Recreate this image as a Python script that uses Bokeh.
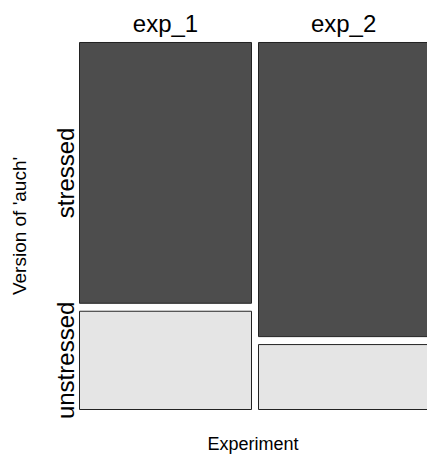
from bokeh.plotting import figure
from bokeh.models import Range1d, LinearAxis, FixedTicker
from bokeh.embed import file_html
from bokeh.resources import INLINE

# ---- data (counts read from the mosaic proportions) ----
experiments = ["exp_1", "exp_2"]
versions = ["stressed", "unstressed"]
stressed = [69, 77]
unstressed = [26, 17]

FONT = "Liberation Sans"
DARK = "#4d4d4d"
LIGHT = "#e5e5e5"

totals = [s + u for s, u in zip(stressed, unstressed)]
grand = sum(totals)
widths = [t / grand for t in totals]

# layout scale (pixels per unit) used for gaps/ranges
sx = 172 / widths[0]
sy = 361.0
gap_x = 7 / sx
gap_y = 8 / sy

left, right, bottom, top, fill = [], [], [], [], []
x_centers = []
x0 = 0.0
for i, exp in enumerate(experiments):
    w = widths[i]
    pu = unstressed[i] / totals[i]
    # unstressed (bottom)
    left.append(x0); right.append(x0 + w); bottom.append(0.0); top.append(pu); fill.append(LIGHT)
    # stressed (top)
    left.append(x0); right.append(x0 + w); bottom.append(pu + gap_y); top.append(1.0 + gap_y); fill.append(DARK)
    x_centers.append(x0 + w / 2)
    x0 += w + gap_x

pu1 = unstressed[0] / totals[0]
y_centers = [(pu1 + gap_y + 1.0 + gap_y) / 2, pu1 / 2]

p = figure(width=427, height=456,
           x_range=Range1d(-1 / sx, 348 / sx),
           y_range=Range1d(-1 / sy, 370 / sy),
           output_backend="svg", toolbar_location=None,
           x_axis_location=None, y_axis_location=None,
           min_border_left=78, min_border_right=0,
           min_border_top=41, min_border_bottom=44)
p.outline_line_color = None
p.xgrid.visible = False
p.ygrid.visible = False
p.background_fill_color = "white"
p.border_fill_color = "white"

p.quad(left=left, right=right, bottom=bottom, top=top,
       fill_color=fill, line_color="#222222", line_width=1)

def style_axis(ax):
    ax.axis_line_color = None
    ax.major_tick_line_color = None
    ax.minor_tick_line_color = None
    ax.major_tick_out = 0
    ax.major_tick_in = 0
    ax.major_label_text_font = FONT
    ax.axis_label_text_font = FONT
    ax.axis_label_text_font_style = "normal"
    ax.major_label_text_color = "black"
    ax.axis_label_text_color = "black"

top_ax = LinearAxis(ticker=FixedTicker(ticks=x_centers),
                    major_label_overrides={c: e for c, e in zip(x_centers, experiments)})
style_axis(top_ax)
top_ax.major_label_text_font_size = "24px"
top_ax.major_label_standoff = 5
p.add_layout(top_ax, "above")

left_ax = LinearAxis(ticker=FixedTicker(ticks=y_centers),
                     major_label_overrides={c: v for c, v in zip(y_centers, versions)},
                     axis_label="Version of 'auch'")
style_axis(left_ax)
left_ax.major_label_text_font_size = "24px"
left_ax.major_label_orientation = "vertical"
left_ax.major_label_standoff = -1
left_ax.axis_label_text_font_size = "19px"
left_ax.axis_label_standoff = 20
p.add_layout(left_ax, "left")

bot_ax = LinearAxis(ticker=FixedTicker(ticks=[]), axis_label="Experiment")
style_axis(bot_ax)
bot_ax.axis_label_text_font_size = "18px"
bot_ax.axis_label_standoff = 23
p.add_layout(bot_ax, "below")

open("out.html", "w").write(file_html(p, INLINE))
